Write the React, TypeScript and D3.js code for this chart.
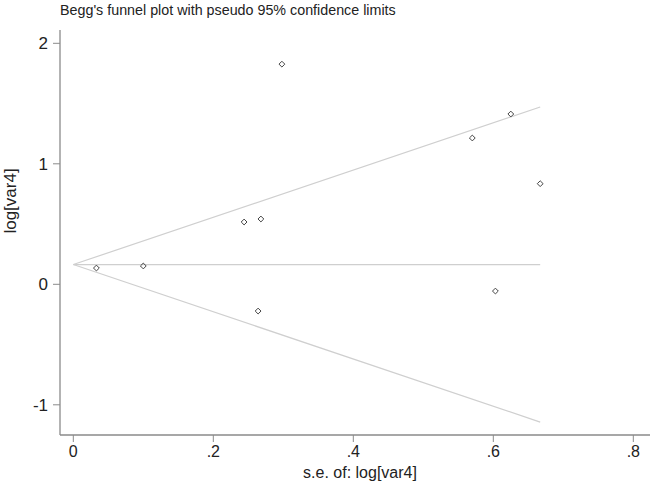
import React from "react";
import * as d3 from "d3";

const seValues = [0.033, 0.1, 0.244, 0.268, 0.264, 0.298, 0.57, 0.625, 0.667, 0.603];
const effectValues = [0.135, 0.152, 0.517, 0.542, -0.222, 1.827, 1.214, 1.413, 0.835, -0.056];
const pooledEstimate = 0.164;
const xTicks = [0, 0.2, 0.4, 0.6, 0.8];
const xTickLabels = ["0", ".2", ".4", ".6", ".8"];
const yTicks = [-1, 0, 1, 2];
const yTickLabels = ["-1", "0", "1", "2"];

const W = 650;
const H = 481;

export default function App() {
  const x = d3.scaleLinear().domain([0, 0.8]).range([73.3, 633.3]);
  const y = d3.scaleLinear().domain([0, 2]).range([284.3, 43.3]);
  const maxSe = d3.max(seValues) as number;
  const font = "Liberation Sans, Arial, sans-serif";

  const line = d3
    .line<[number, number]>()
    .x((d) => x(d[0]))
    .y((d) => y(d[1]));

  const upper: [number, number][] = [
    [0, pooledEstimate],
    [maxSe, pooledEstimate + 1.96 * maxSe],
  ];
  const lower: [number, number][] = [
    [0, pooledEstimate],
    [maxSe, pooledEstimate - 1.96 * maxSe],
  ];
  const mid: [number, number][] = [
    [0, pooledEstimate],
    [maxSe, pooledEstimate],
  ];
  const r = 2.9;
  const diamond = `M0,${-r}L${r},0L0,${r}L${-r},0Z`;

  return (
    <svg
      width={W}
      height={H}
      style={{ position: "absolute", left: 0, top: 0, background: "#fff" }}
    >
      <rect width={W} height={H} fill="#fff" />
      <text x={60} y={15} fontFamily={font} fontSize={14.3} fill="#222">
        Begg's funnel plot with pseudo 95% confidence limits
      </text>
      {/* axes */}
      <line x1={60} x2={60} y1={30} y2={435} stroke="#8a8a8a" strokeWidth={1.3} />
      <line x1={60} x2={650} y1={435} y2={435} stroke="#8a8a8a" strokeWidth={1.3} />
      {yTicks.map((t, i) => (
        <g key={"y" + t}>
          <line x1={53} x2={60} y1={y(t)} y2={y(t)} stroke="#8a8a8a" strokeWidth={1} />
          <text
            x={48}
            y={y(t)}
            dy="0.36em"
            textAnchor="end"
            fontFamily={font}
            fontSize={17}
            fill="#222"
          >
            {yTickLabels[i]}
          </text>
        </g>
      ))}
      {xTicks.map((t, i) => (
        <g key={"x" + t}>
          <line x1={x(t)} x2={x(t)} y1={435} y2={442} stroke="#8a8a8a" strokeWidth={1} />
          <text
            x={x(t)}
            y={457}
            textAnchor="middle"
            fontFamily={font}
            fontSize={16}
            fill="#222"
          >
            {xTickLabels[i]}
          </text>
        </g>
      ))}
      <text
        x={360}
        y={478}
        textAnchor="middle"
        fontFamily={font}
        fontSize={16}
        fill="#222"
      >
        s.e. of: log[var4]
      </text>
      <text
        transform={`translate(16,201) rotate(-90)`}
        textAnchor="middle"
        fontFamily={font}
        fontSize={17}
        fill="#222"
      >
        log[var4]
      </text>
      {/* funnel */}
      <path d={line(upper) as string} fill="none" stroke="#cfcfcf" strokeWidth={1.2} />
      <path d={line(lower) as string} fill="none" stroke="#cfcfcf" strokeWidth={1.2} />
      <path d={line(mid) as string} fill="none" stroke="#cfcfcf" strokeWidth={1.2} />
      {seValues.map((s, i) => (
        <path
          key={i}
          d={diamond}
          transform={`translate(${x(s)},${y(effectValues[i])})`}
          fill="none"
          stroke="#444"
          strokeWidth={1}
        />
      ))}
    </svg>
  );
}
